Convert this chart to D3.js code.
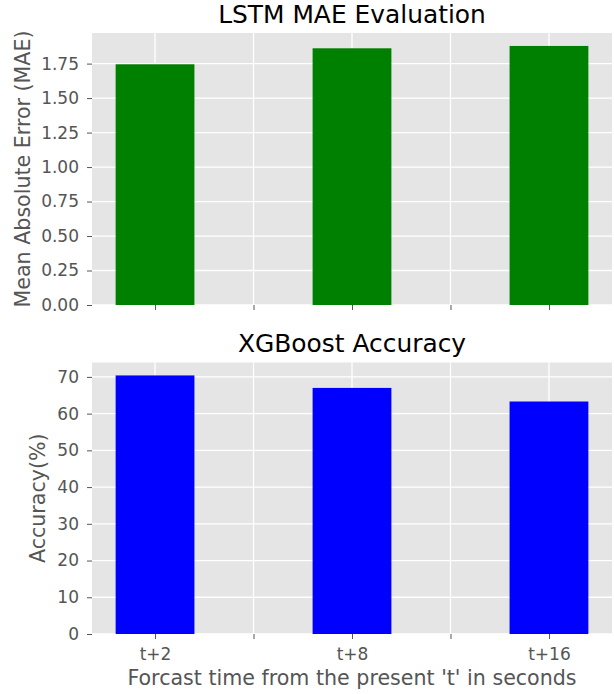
<!DOCTYPE html>
<html lang="en">
<head>
	<meta charset="utf-8">
	<title>LSTM MAE / XGBoost Accuracy</title>
	<script src='https://d3js.org/d3.v7.min.js'></script>
	<style>
		body { margin: 0; background: #fff; }
		text { font-family: "DejaVu Sans", sans-serif; }
	</style>
</head>
<body>
	<div id="chart"></div>
	<script>
		// data
		let categories = ["t+2", "t+8", "t+16"];
		let barPositions = [0, 2, 4];
		let xTickPositions = [0, 1, 2, 3, 4];
		let lstmMae = [1.745, 1.861, 1.878];
		let xgbAccuracy = [70.4, 67.0, 63.3];
		let maeTicks = [0, 0.25, 0.5, 0.75, 1.0, 1.25, 1.5, 1.75];
		let accTicks = [0, 10, 20, 30, 40, 50, 60, 70];

		let width = 614;
		let height = 694;
		let left = 92;
		let right = 612;
		let barWidth = 0.8;

		let svg = d3.select("#chart")
					.append("svg")
					.attr("width", width)
					.attr("height", height);

		// shared x scale (bars at 0, 2, 4 with matplotlib 5% margins)
		let x = d3.scaleLinear()
					.domain([-0.4 - 0.24, 4.4 + 0.24])
					.range([left, right]);

		function drawPanel(opts) {
			let y = d3.scaleLinear()
						.domain([0, d3.max(opts.values) * 1.05])
						.range([opts.bottom, opts.top]);

			// background
			svg.append("rect")
				.attr("x", left)
				.attr("y", opts.top)
				.attr("width", right - left)
				.attr("height", opts.bottom - opts.top)
				.attr("fill", "#E5E5E5");

			// grid lines (under the bars)
			svg.append("g")
				.selectAll("line")
				.data(opts.yTicks)
				.enter()
				.append("line")
				.attr("x1", left).attr("x2", right)
				.attr("y1", d => y(d)).attr("y2", d => y(d))
				.attr("stroke", "white")
				.attr("stroke-width", 1.3);
			svg.append("g")
				.selectAll("line")
				.data(xTickPositions)
				.enter()
				.append("line")
				.attr("x1", d => x(d)).attr("x2", d => x(d))
				.attr("y1", opts.top).attr("y2", opts.bottom)
				.attr("stroke", "white")
				.attr("stroke-width", 1.3);

			// bars
			svg.selectAll("rect.bar" + opts.id)
				.data(opts.values)
				.enter()
				.append("rect")
				.attr("class", "bar" + opts.id)
				.attr("x", (d, i) => x(barPositions[i] - barWidth / 2))
				.attr("width", x(barWidth) - x(0))
				.attr("y", d => y(d))
				.attr("height", d => y(0) - y(d))
				.attr("fill", opts.color);

			// left axis
			let yAxis = svg.append("g")
				.attr("transform", "translate(" + left + ",0)")
				.call(d3.axisLeft(y)
					.tickValues(opts.yTicks)
					.tickFormat(opts.format)
					.tickSize(5)
					.tickPadding(8));
			yAxis.select(".domain").remove();

			// bottom axis
			let xAxis = svg.append("g")
				.attr("transform", "translate(0," + opts.bottom + ")")
				.call(d3.axisBottom(x)
					.tickValues(xTickPositions)
					.tickFormat(d => {
						if (!opts.showLabels) return "";
						let i = barPositions.indexOf(d);
						return i >= 0 ? categories[i] : "";
					})
					.tickSize(5)
					.tickPadding(9));
			xAxis.select(".domain").remove();

			[yAxis, xAxis].forEach(a => {
				a.selectAll("line").attr("stroke", "#555555");
				a.selectAll("text")
					.attr("fill", "#555555")
					.style("font-size", "17px")
					.style("font-family", "'DejaVu Sans', sans-serif");
			});

			// title
			svg.append("text")
				.attr("x", (left + right) / 2)
				.attr("y", opts.top - 10.3)
				.attr("text-anchor", "middle")
				.style("font-size", "24.9px")
				.attr("fill", "#000")
				.text(opts.title);

			// y label
			svg.append("text")
				.attr("transform", "translate(" + opts.labelX + "," + ((opts.top + opts.bottom) / 2) + ") rotate(-90)")
				.attr("text-anchor", "middle")
				.style("font-size", "20.6px")
				.attr("fill", "#555555")
				.text(opts.yLabel);
		}

		drawPanel({
			id: "mae",
			values: lstmMae,
			yTicks: maeTicks,
			format: d3.format(".2f"),
			top: 33,
			bottom: 305,
			color: "green",
			title: "LSTM MAE Evaluation",
			yLabel: "Mean Absolute Error (MAE)",
			labelX: 30,
			showLabels: false
		});

		drawPanel({
			id: "acc",
			values: xgbAccuracy,
			yTicks: accTicks,
			format: d3.format("d"),
			top: 362.5,
			bottom: 634,
			color: "blue",
			title: "XGBoost Accuracy",
			yLabel: "Accuracy(%)",
			labelX: 45,
			showLabels: true
		});

		// x label
		svg.append("text")
			.attr("x", (left + right) / 2)
			.attr("y", 685)
			.attr("text-anchor", "middle")
			.style("font-size", "20.6px")
			.attr("fill", "#555555")
			.text("Forcast time from the present 't' in seconds");
	</script>
</body>
</html>
